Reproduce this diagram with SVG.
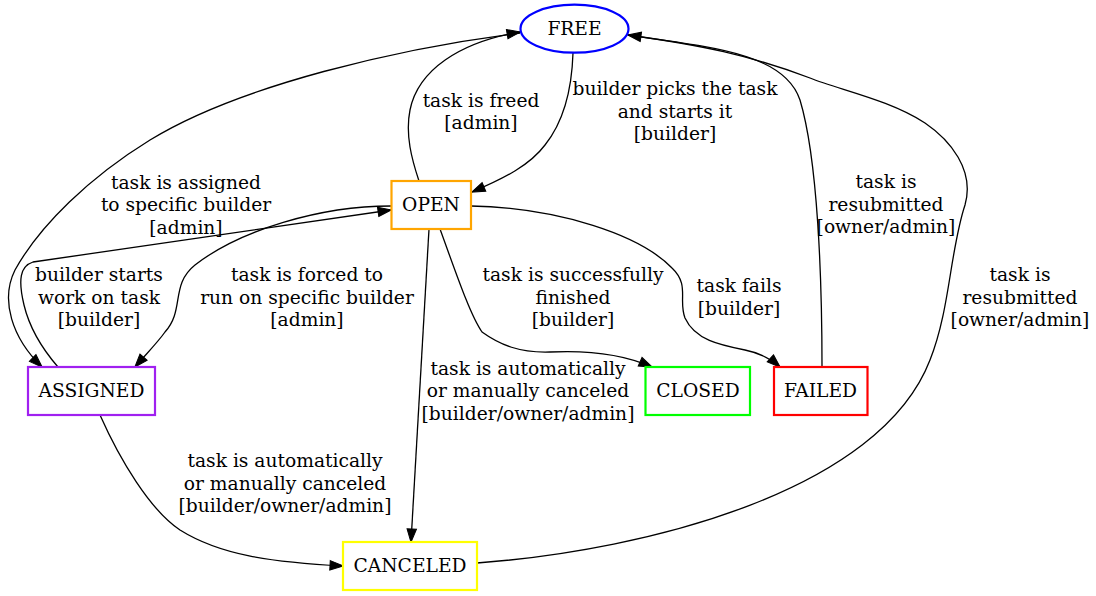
<svg xmlns="http://www.w3.org/2000/svg" width="1096" height="596" viewBox="0 0 1096 596">
<style>
text{font-family:"DejaVu Serif","Liberation Serif",serif;font-size:18.67px;fill:#000;text-anchor:middle}
.n{fill:#fff;stroke-width:2.2}
.e{fill:none;stroke:#000;stroke-width:1.3}
</style>
<defs>
<marker id="ah" markerUnits="userSpaceOnUse" markerWidth="14" markerHeight="10" refX="13" refY="4.7" orient="auto" overflow="visible">
<path d="M0,0 L13.3,4.7 L0,9.4 z" fill="#000" stroke="#000" stroke-width="1"/>
</marker>
</defs>
<rect width="1096" height="596" fill="#fff"/>
<g id="connectors">
<path class="e" d="M573,53 C572,85 565,120 545,145 C530,165 505,178 472,192" marker-end="url(#ah)"/>
<path class="e" d="M419,181 C412,160 405,135 410,110 C418,70 460,42 520,32" marker-end="url(#ah)"/>
<path class="e" d="M520,33 C400,48 240,85 150,140 C90,177 40,225 15,270 C0,300 12,338 42,367" marker-end="url(#ah)"/>
<path class="e" d="M58,367 C45,352 30,330 24,305 C18,280 20,266 33,262 L391,210" marker-end="url(#ah)"/>
<path class="e" d="M391,206 C320,206 240,230 195,265 C170,285 185,310 165,332 C158,342 148,352 135,367" marker-end="url(#ah)"/>
<path class="e" d="M429,229 L411,542" marker-end="url(#ah)"/>
<path class="e" d="M440,229 C455,270 470,315 482,332 C500,345 520,353 550,352 C590,350 625,355 652,367" marker-end="url(#ah)"/>
<path class="e" d="M471,206 C560,208 640,235 672,268 C690,285 678,300 685,318 C695,340 720,345 745,350 C760,353 770,358 780,367" marker-end="url(#ah)"/>
<path class="e" d="M822,367 C822,280 818,160 800,100 C785,55 720,48 628,35" marker-end="url(#ah)"/>
<path class="e" d="M477,563 C650,550 880,490 930,360 C950,310 950,250 965,205 C975,170 950,140 925,123 C890,100 840,90 810,78 C750,55 700,45 628,35"/>
<path class="e" d="M100,415 C120,460 150,510 180,530 C220,555 270,562 343,566" marker-end="url(#ah)"/>
</g>
<g id="labels">
<text x="186" y="188.5">task is assigned</text>
<text x="186" y="211">to specific builder</text>
<text x="186" y="233.5">[admin]</text>
<text x="481" y="106.5">task is freed</text>
<text x="481" y="129">[admin]</text>
<text x="675" y="95">builder picks the task</text>
<text x="675" y="117.5">and starts it</text>
<text x="675" y="140">[builder]</text>
<text x="886" y="188">task is</text>
<text x="886" y="210.5">resubmitted</text>
<text x="886" y="233">[owner/admin]</text>
<text x="1020" y="281">task is</text>
<text x="1020" y="303.5">resubmitted</text>
<text x="1020" y="326">[owner/admin]</text>
<text x="99" y="281">builder starts</text>
<text x="99" y="303.5">work on task</text>
<text x="99" y="326">[builder]</text>
<text x="307" y="281">task is forced to</text>
<text x="307" y="303.5">run on specific builder</text>
<text x="307" y="326">[admin]</text>
<text x="573" y="281">task is successfully</text>
<text x="573" y="303.5">finished</text>
<text x="573" y="326">[builder]</text>
<text x="739" y="292">task fails</text>
<text x="739" y="314.5">[builder]</text>
<text x="528" y="374.5">task is automatically</text>
<text x="528" y="397">or manually canceled</text>
<text x="528" y="419.5">[builder/owner/admin]</text>
<text x="285" y="467">task is automatically</text>
<text x="285" y="489.5">or manually canceled</text>
<text x="285" y="512">[builder/owner/admin]</text>
</g>
<g id="FREE"><ellipse class="n" cx="574.5" cy="28.7" rx="54" ry="24" stroke="#0000ff"/><text x="574.5" y="34.5">FREE</text></g>
<g id="OPEN"><rect class="n" x="391.5" y="181" width="79.5" height="48" stroke="#ffa500"/><text x="431" y="210.5">OPEN</text></g>
<g id="ASSIGNED"><rect class="n" x="28" y="367" width="127" height="48" stroke="#a020f0"/><text x="91.5" y="396.5">ASSIGNED</text></g>
<g id="CLOSED"><rect class="n" x="645.5" y="367" width="104.5" height="48" stroke="#00ff00"/><text x="698" y="396.5">CLOSED</text></g>
<g id="FAILED"><rect class="n" x="774" y="367" width="93.5" height="48" stroke="#ff0000"/><text x="820.5" y="396.5">FAILED</text></g>
<g id="CANCELED"><rect class="n" x="343" y="542" width="134" height="48" stroke="#ffff00"/><text x="410" y="571.5">CANCELED</text></g>
</svg>
